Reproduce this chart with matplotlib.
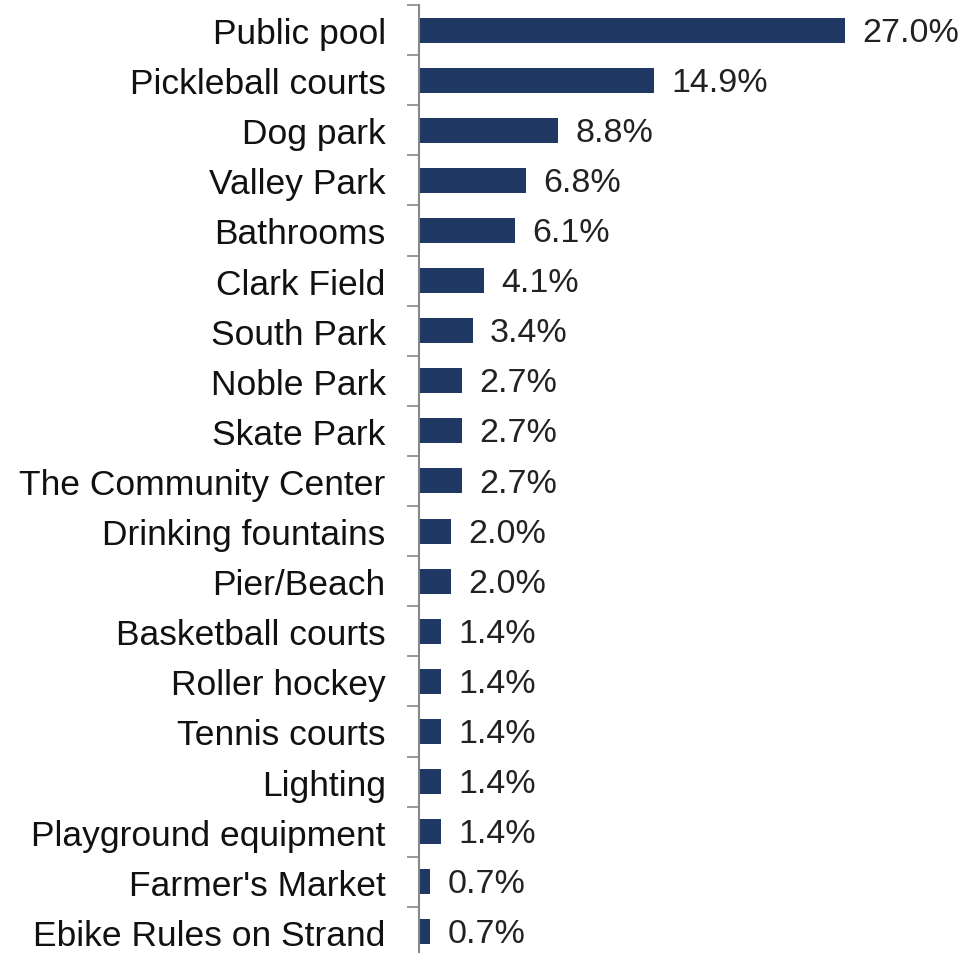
import matplotlib
matplotlib.use("Agg")
import matplotlib.pyplot as plt
from matplotlib.ticker import FixedLocator

categories = ["Public pool", "Pickleball courts", "Dog park", "Valley Park", "Bathrooms",
              "Clark Field", "South Park", "Noble Park", "Skate Park", "The Community Center",
              "Drinking fountains", "Pier/Beach", "Basketball courts", "Roller hockey",
              "Tennis courts", "Lighting", "Playground equipment", "Farmer's Market",
              "Ebike Rules on Strand"]
values = [27.0, 14.9, 8.8, 6.8, 6.1, 4.1, 3.4, 2.7, 2.7, 2.7, 2.0, 2.0, 1.4, 1.4, 1.4, 1.4, 1.4, 0.7, 0.7]

plt.rcParams['font.family'] = ['Liberation Sans', 'DejaVu Sans']

W, H = 962, 954
fig = plt.figure(figsize=(W/100, H/100), dpi=100)
left = 419 / W
top_px = 6
ax = fig.add_axes([left, 0, 1 - left, 1 - top_px / H])

ypos = list(range(len(categories)))
bar_color = "#1f3864"
ax.barh(ypos, values, height=0.5, color=bar_color, left=0)

px_per_unit_y = 50.1
ax.set_ylim(-0.5 + (H - top_px) / px_per_unit_y, -0.5)
px_per_pct = 15.78
ax.set_xlim(0, (W - 419) / px_per_pct)

for y, v in zip(ypos, values):
    ax.annotate(f"{v:.1f}%", xy=(v, y), xytext=(12.5, -1.5), textcoords="offset points",
                va="center", ha="left", fontsize=24.5, color="#222222")

ax.set_yticks(ypos)
ax.set_yticklabels(categories, fontsize=25.5, color="#111111")
ax.tick_params(axis="y", which="major", length=0, pad=24)
ax.yaxis.set_minor_locator(FixedLocator([i - 0.5 for i in range(len(categories) + 1)]))
ax.tick_params(axis="y", which="minor", length=8.6, width=1.2, color="#888888")

ax.set_xticks([])
for s in ["top", "right", "bottom"]:
    ax.spines[s].set_visible(False)
ax.spines["left"].set_color("#888888")
ax.spines["left"].set_linewidth(1.5)

fig.savefig("out.png", dpi=100)
